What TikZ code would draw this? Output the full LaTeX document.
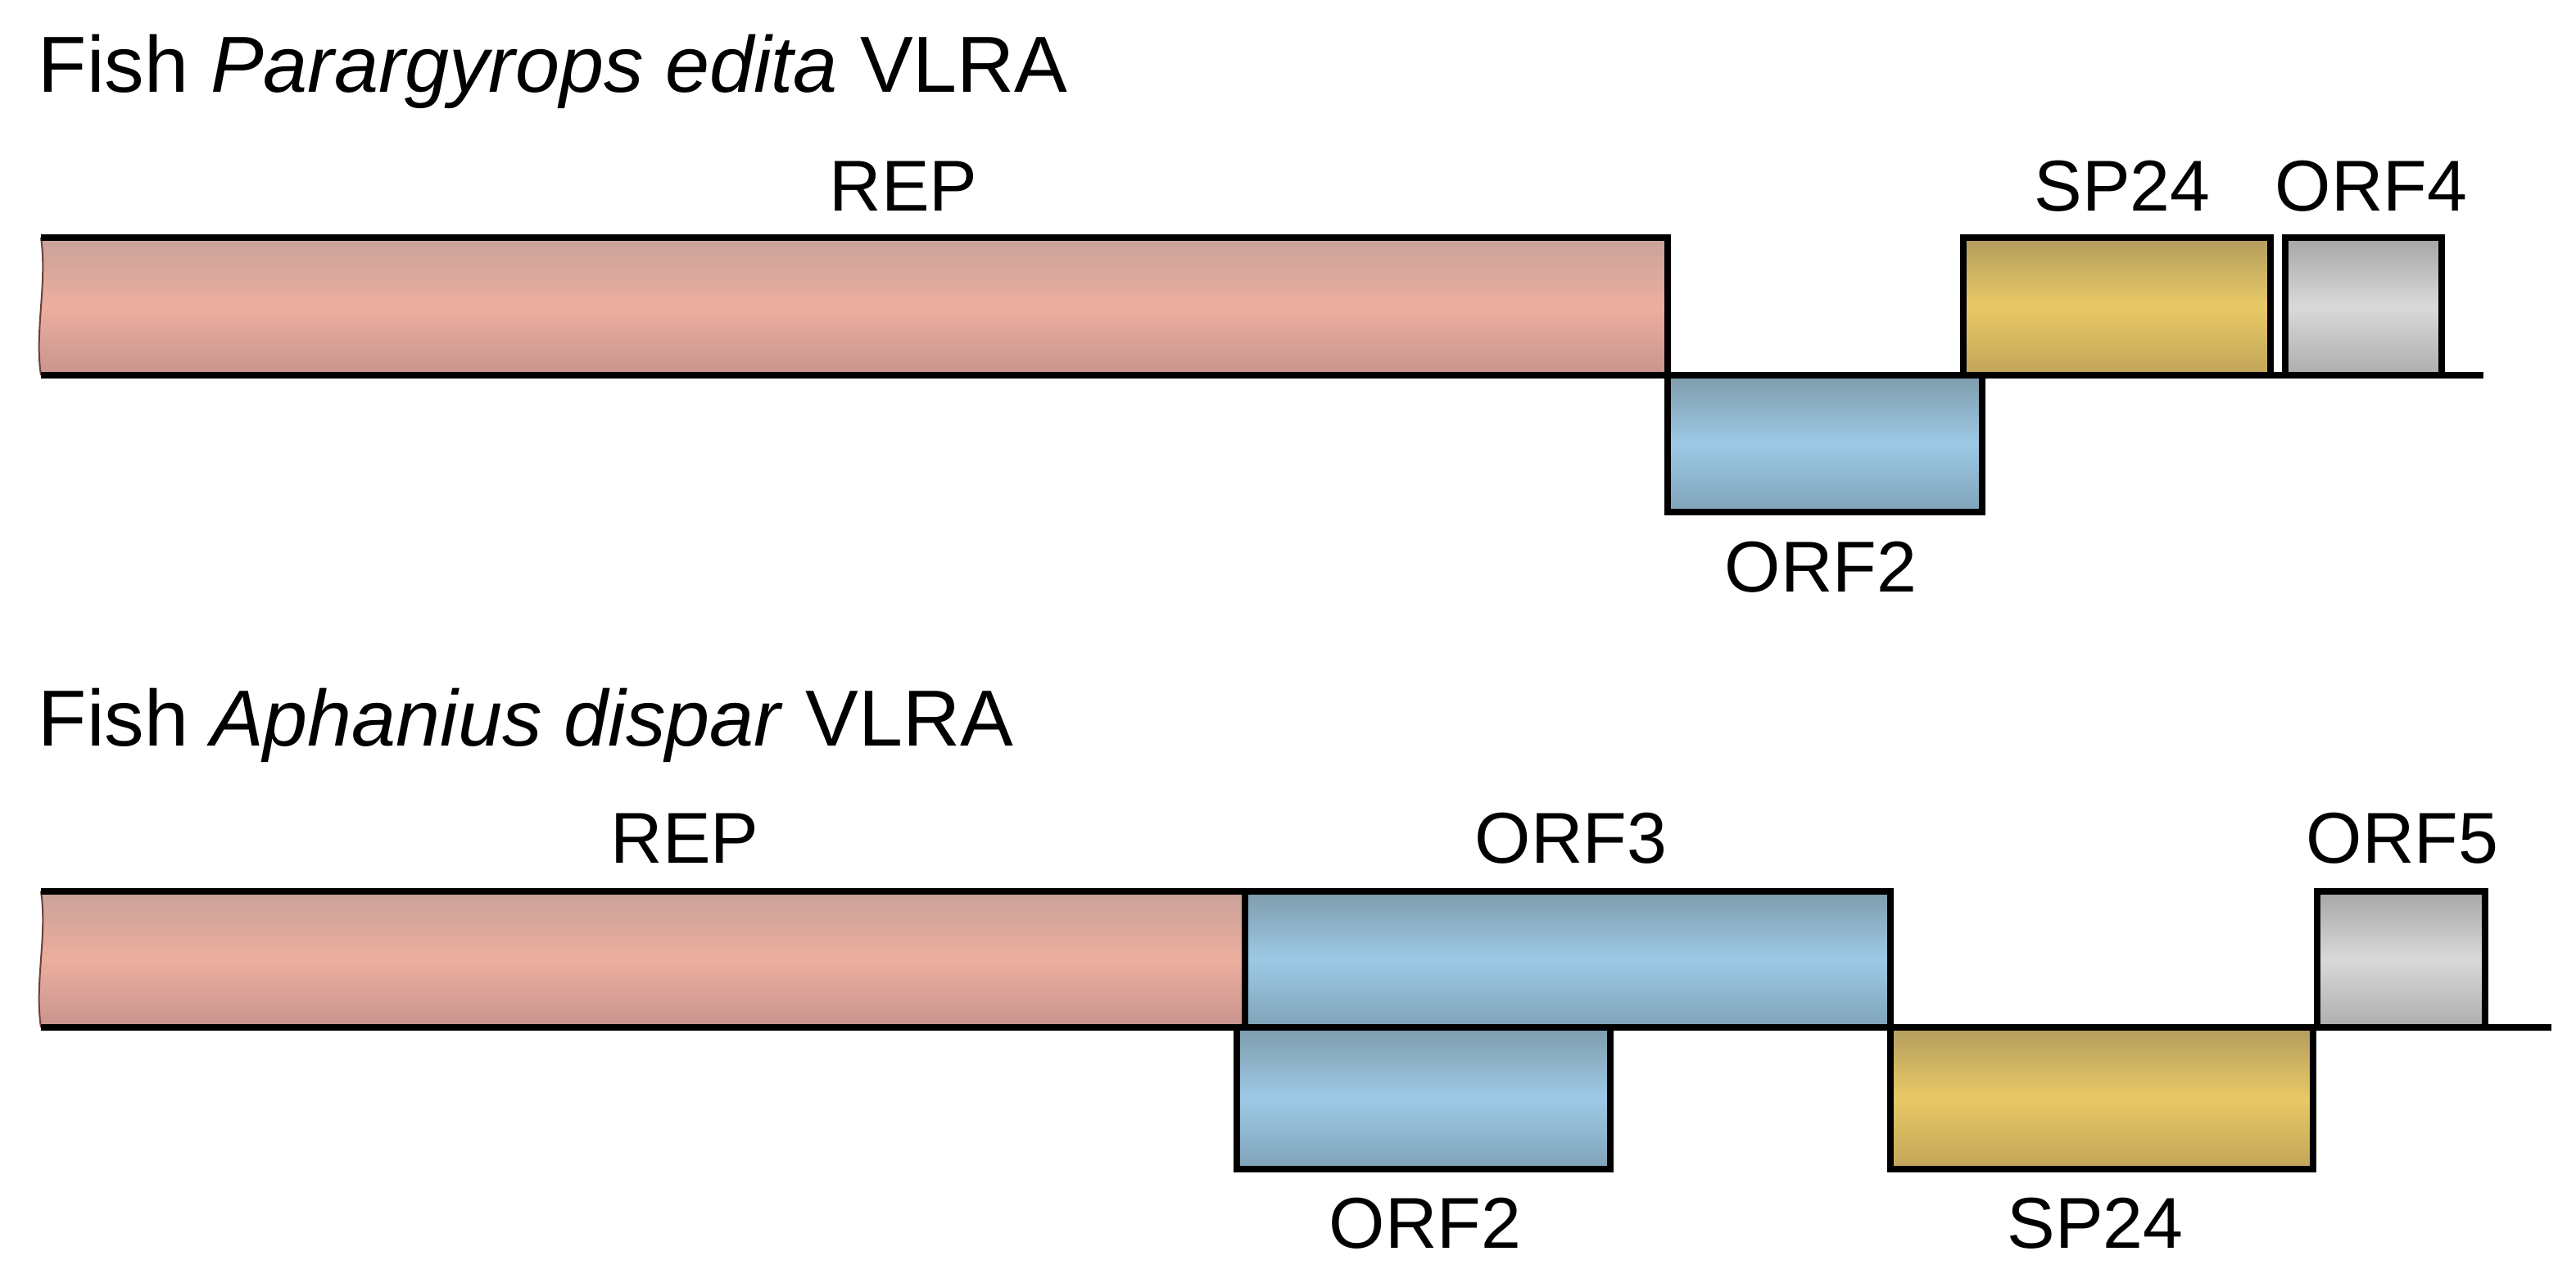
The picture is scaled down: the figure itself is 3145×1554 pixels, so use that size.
\documentclass[tikz,border=0pt]{standalone}
\usepackage{fontspec}
\setmainfont{Liberation Sans}
\usetikzlibrary{fit}
\definecolor{repT}{HTML}{C9A29A}\definecolor{repM}{HTML}{ECAE9E}\definecolor{repB}{HTML}{C8948E}
\definecolor{bluT}{HTML}{7E9CAC}\definecolor{bluM}{HTML}{9DC9E6}\definecolor{bluB}{HTML}{7FA3B8}
\definecolor{golT}{HTML}{B39C5E}\definecolor{golM}{HTML}{E8C966}\definecolor{golB}{HTML}{C2A459}
\definecolor{gryT}{HTML}{A6A6A6}\definecolor{gryM}{HTML}{D9D9D9}\definecolor{gryB}{HTML}{ADADAD}
\definecolor{repedge}{HTML}{6E4038}
\tikzset{
  gene/.style={draw=black, line width=0.08cm, inner sep=0pt, outer sep=0pt},
  repfill/.style={top color=repT, bottom color=repB, middle color=repM},
  blufill/.style={gene, top color=bluT, bottom color=bluB, middle color=bluM},
  golfill/.style={gene, top color=golT, bottom color=golB, middle color=golM},
  gryfill/.style={gene, top color=gryT, bottom color=gryB, middle color=gryM},
  outline/.style={draw=black, line width=0.08cm, line join=miter},
  backbone/.style={draw=black, line width=0.08cm},
  waveedge/.style={draw=repedge, line width=0.02cm},
  lbl/.style={font=\fontsize{25}{25}\selectfont, inner sep=0pt, anchor=base},
  ttl/.style={font=\fontsize{27.6}{28}\selectfont, inner sep=0pt, anchor=base west},
}
\begin{document}
\begin{tikzpicture}[x=0.01cm, y=-0.01cm]
\useasboundingbox[fill=white] (0,0) rectangle (3145,1554);

% ---------- Row 1 ----------
\node[ttl] (t1) at (46,112) {Fish \textit{Parargyrops edita} VLRA};

\path[repfill] (50,290) -- (2036,290) -- (2036,458) -- (50,458)
  .. controls (42,405) and (58,345) .. cycle;
\draw[waveedge] (50,458) .. controls (42,405) and (58,345) .. (50,290);
\draw[outline] (50,290) -- (2036,290) -- (2036,458);
\node[blufill, fit={(2036,458)(2420,625)}] (orf2a) {};
\node[golfill, fit={(2397,290)(2772,458)}] (sp24a) {};
\node[gryfill, fit={(2790,290)(2981,458)}] (orf4a) {};
\coordinate (l1s) at (50,458);
\coordinate (l1e) at (3032,458);
\draw[backbone] (l1s) -- (l1e);

\node[lbl] (rep1) at (1103,257) {REP};
\node[lbl] (sp1) at (2591,257) {SP24};
\node[lbl] (o4) at (2895,257) {ORF4};
\node[lbl] (o2a) at (2223,722) {ORF2};

% ---------- Row 2 ----------
\node[ttl] (t2) at (46,910) {Fish \textit{Aphanius dispar} VLRA};

\path[repfill] (50,1088) -- (1520,1088) -- (1520,1254) -- (50,1254)
  .. controls (42,1200) and (58,1142) .. cycle;
\draw[waveedge] (50,1254) .. controls (42,1200) and (58,1142) .. (50,1088);
\draw[outline] (50,1088) -- (1520,1088) -- (1520,1254);
\node[blufill, fit={(1520,1088)(2308,1254)}] (orf3b) {};
\node[blufill, fit={(1510,1254)(1966,1427)}] (orf2b) {};
\node[golfill, fit={(2308,1254)(2824,1427)}] (sp24b) {};
\node[gryfill, fit={(2829,1088)(3034,1254)}] (orf5b) {};
\coordinate (l2s) at (50,1254);
\coordinate (l2e) at (3115,1254);
\draw[backbone] (l2s) -- (l2e);

\node[lbl] (rep2) at (836,1053) {REP};
\node[lbl] (o3) at (1918,1053) {ORF3};
\node[lbl] (o5) at (2933,1053) {ORF5};
\node[lbl] (o2b) at (1740,1523) {ORF2};
\node[lbl] (sp2) at (2558,1523) {SP24};
\end{tikzpicture}
\end{document}
